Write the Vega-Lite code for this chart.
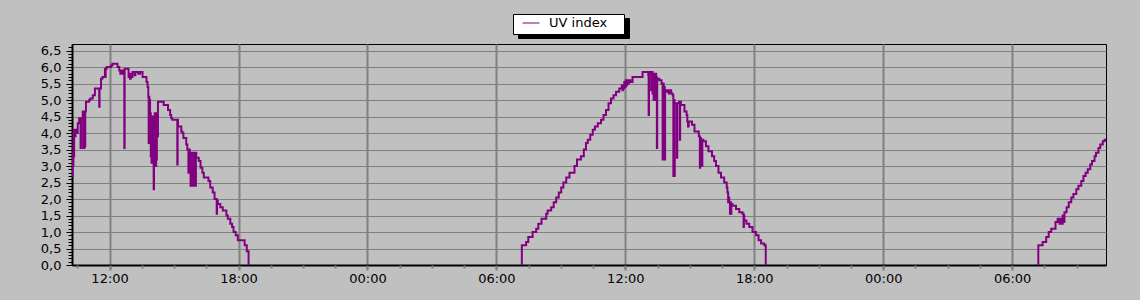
{
  "$schema": "https://vega.github.io/schema/vega-lite/v6.json",
  "width": 1034,
  "height": 221,
  "autosize": {"type": "none"},
  "padding": {"left": 72, "top": 44, "right": 34, "bottom": 35},
  "background": "#c0c0c0",
  "config": {
    "view": {"stroke": "black", "strokeWidth": 1, "fill": "#c0c0c0"},
    "axis": {"labelFont": "DejaVu Sans", "labelFontSize": 13, "labelColor": "black", "title": null}
  },
  "data": {"values": [
    {"t":"2024-05-20T10:15:00Z","v":2.7,"day":1},{"t":"2024-05-20T10:17:00Z","v":3.4,"day":1},{"t":"2024-05-20T10:18:00Z","v":3.0,"day":1},{"t":"2024-05-20T10:19:00Z","v":4.0,"day":1},{"t":"2024-05-20T10:20:00Z","v":3.3,"day":1},{"t":"2024-05-20T10:21:00Z","v":4.1,"day":1},{"t":"2024-05-20T10:23:00Z","v":3.9,"day":1},{"t":"2024-05-20T10:25:00Z","v":4.1,"day":1},{"t":"2024-05-20T10:28:00Z","v":4.0,"day":1},{"t":"2024-05-20T10:31:00Z","v":4.3,"day":1},{"t":"2024-05-20T10:35:00Z","v":4.45,"day":1},{"t":"2024-05-20T10:39:00Z","v":3.55,"day":1},{"t":"2024-05-20T10:40:00Z","v":4.45,"day":1},{"t":"2024-05-20T10:45:00Z","v":4.65,"day":1},{"t":"2024-05-20T10:46:00Z","v":3.55,"day":1},{"t":"2024-05-20T10:47:00Z","v":4.65,"day":1},{"t":"2024-05-20T10:49:00Z","v":3.55,"day":1},{"t":"2024-05-20T10:50:00Z","v":4.65,"day":1},{"t":"2024-05-20T10:51:00Z","v":3.6,"day":1},{"t":"2024-05-20T10:52:00Z","v":4.65,"day":1},{"t":"2024-05-20T10:54:00Z","v":4.95,"day":1},{"t":"2024-05-20T11:03:00Z","v":5.0,"day":1},{"t":"2024-05-20T11:06:00Z","v":5.05,"day":1},{"t":"2024-05-20T11:13:00Z","v":5.15,"day":1},{"t":"2024-05-20T11:19:00Z","v":5.35,"day":1},{"t":"2024-05-20T11:31:00Z","v":4.8,"day":1},{"t":"2024-05-20T11:32:00Z","v":5.35,"day":1},{"t":"2024-05-20T11:36:00Z","v":5.65,"day":1},{"t":"2024-05-20T11:40:00Z","v":5.7,"day":1},{"t":"2024-05-20T11:47:00Z","v":5.95,"day":1},{"t":"2024-05-20T11:48:00Z","v":5.7,"day":1},{"t":"2024-05-20T11:49:00Z","v":5.95,"day":1},{"t":"2024-05-20T11:52:00Z","v":6.0,"day":1},{"t":"2024-05-20T12:04:00Z","v":6.05,"day":1},{"t":"2024-05-20T12:08:00Z","v":6.1,"day":1},{"t":"2024-05-20T12:22:00Z","v":6.0,"day":1},{"t":"2024-05-20T12:27:00Z","v":5.9,"day":1},{"t":"2024-05-20T12:30:00Z","v":5.8,"day":1},{"t":"2024-05-20T12:33:00Z","v":5.9,"day":1},{"t":"2024-05-20T12:36:00Z","v":5.8,"day":1},{"t":"2024-05-20T12:39:00Z","v":5.9,"day":1},{"t":"2024-05-20T12:41:00Z","v":3.55,"day":1},{"t":"2024-05-20T12:42:00Z","v":5.95,"day":1},{"t":"2024-05-20T12:46:00Z","v":5.95,"day":1},{"t":"2024-05-20T12:53:00Z","v":5.7,"day":1},{"t":"2024-05-20T12:55:00Z","v":5.8,"day":1},{"t":"2024-05-20T12:57:00Z","v":5.65,"day":1},{"t":"2024-05-20T12:59:00Z","v":5.8,"day":1},{"t":"2024-05-20T13:01:00Z","v":5.7,"day":1},{"t":"2024-05-20T13:04:00Z","v":5.85,"day":1},{"t":"2024-05-20T13:10:00Z","v":5.75,"day":1},{"t":"2024-05-20T13:12:00Z","v":5.85,"day":1},{"t":"2024-05-20T13:20:00Z","v":5.8,"day":1},{"t":"2024-05-20T13:25:00Z","v":5.85,"day":1},{"t":"2024-05-20T13:32:00Z","v":5.7,"day":1},{"t":"2024-05-20T13:43:00Z","v":5.55,"day":1},{"t":"2024-05-20T13:46:00Z","v":5.4,"day":1},{"t":"2024-05-20T13:48:00Z","v":5.1,"day":1},{"t":"2024-05-20T13:49:00Z","v":3.7,"day":1},{"t":"2024-05-20T13:50:00Z","v":5.1,"day":1},{"t":"2024-05-20T13:51:00Z","v":3.9,"day":1},{"t":"2024-05-20T13:52:00Z","v":5.0,"day":1},{"t":"2024-05-20T13:53:00Z","v":3.7,"day":1},{"t":"2024-05-20T13:54:00Z","v":4.6,"day":1},{"t":"2024-05-20T13:55:00Z","v":3.3,"day":1},{"t":"2024-05-20T13:56:00Z","v":4.5,"day":1},{"t":"2024-05-20T13:57:00Z","v":3.1,"day":1},{"t":"2024-05-20T13:58:00Z","v":4.4,"day":1},{"t":"2024-05-20T13:59:00Z","v":3.3,"day":1},{"t":"2024-05-20T14:00:00Z","v":4.5,"day":1},{"t":"2024-05-20T14:01:00Z","v":3.1,"day":1},{"t":"2024-05-20T14:02:00Z","v":4.4,"day":1},{"t":"2024-05-20T14:03:00Z","v":2.3,"day":1},{"t":"2024-05-20T14:04:00Z","v":4.5,"day":1},{"t":"2024-05-20T14:05:00Z","v":3.0,"day":1},{"t":"2024-05-20T14:06:00Z","v":4.6,"day":1},{"t":"2024-05-20T14:07:00Z","v":3.2,"day":1},{"t":"2024-05-20T14:08:00Z","v":4.2,"day":1},{"t":"2024-05-20T14:09:00Z","v":3.0,"day":1},{"t":"2024-05-20T14:10:00Z","v":4.5,"day":1},{"t":"2024-05-20T14:11:00Z","v":3.2,"day":1},{"t":"2024-05-20T14:12:00Z","v":4.6,"day":1},{"t":"2024-05-20T14:14:00Z","v":3.9,"day":1},{"t":"2024-05-20T14:15:00Z","v":4.95,"day":1},{"t":"2024-05-20T14:31:00Z","v":4.85,"day":1},{"t":"2024-05-20T14:43:00Z","v":4.7,"day":1},{"t":"2024-05-20T14:49:00Z","v":4.55,"day":1},{"t":"2024-05-20T14:52:00Z","v":4.45,"day":1},{"t":"2024-05-20T14:55:00Z","v":4.4,"day":1},{"t":"2024-05-20T15:09:00Z","v":3.05,"day":1},{"t":"2024-05-20T15:10:00Z","v":4.4,"day":1},{"t":"2024-05-20T15:11:00Z","v":4.2,"day":1},{"t":"2024-05-20T15:20:00Z","v":4.05,"day":1},{"t":"2024-05-20T15:23:00Z","v":4.0,"day":1},{"t":"2024-05-20T15:26:00Z","v":3.85,"day":1},{"t":"2024-05-20T15:34:00Z","v":3.65,"day":1},{"t":"2024-05-20T15:37:00Z","v":3.5,"day":1},{"t":"2024-05-20T15:40:00Z","v":2.8,"day":1},{"t":"2024-05-20T15:41:00Z","v":3.5,"day":1},{"t":"2024-05-20T15:44:00Z","v":3.3,"day":1},{"t":"2024-05-20T15:46:00Z","v":2.4,"day":1},{"t":"2024-05-20T15:47:00Z","v":3.4,"day":1},{"t":"2024-05-20T15:48:00Z","v":2.4,"day":1},{"t":"2024-05-20T15:49:00Z","v":3.3,"day":1},{"t":"2024-05-20T15:50:00Z","v":2.5,"day":1},{"t":"2024-05-20T15:51:00Z","v":3.4,"day":1},{"t":"2024-05-20T15:52:00Z","v":2.4,"day":1},{"t":"2024-05-20T15:53:00Z","v":3.3,"day":1},{"t":"2024-05-20T15:54:00Z","v":2.6,"day":1},{"t":"2024-05-20T15:55:00Z","v":3.4,"day":1},{"t":"2024-05-20T15:57:00Z","v":2.4,"day":1},{"t":"2024-05-20T15:58:00Z","v":3.35,"day":1},{"t":"2024-05-20T16:00:00Z","v":2.4,"day":1},{"t":"2024-05-20T16:01:00Z","v":3.4,"day":1},{"t":"2024-05-20T16:02:00Z","v":3.25,"day":1},{"t":"2024-05-20T16:09:00Z","v":3.15,"day":1},{"t":"2024-05-20T16:14:00Z","v":2.95,"day":1},{"t":"2024-05-20T16:19:00Z","v":2.8,"day":1},{"t":"2024-05-20T16:23:00Z","v":2.65,"day":1},{"t":"2024-05-20T16:36:00Z","v":2.55,"day":1},{"t":"2024-05-20T16:41:00Z","v":2.35,"day":1},{"t":"2024-05-20T16:48:00Z","v":2.2,"day":1},{"t":"2024-05-20T16:53:00Z","v":2.0,"day":1},{"t":"2024-05-20T16:59:00Z","v":1.55,"day":1},{"t":"2024-05-20T17:00:00Z","v":1.95,"day":1},{"t":"2024-05-20T17:02:00Z","v":1.85,"day":1},{"t":"2024-05-20T17:09:00Z","v":1.75,"day":1},{"t":"2024-05-20T17:16:00Z","v":1.65,"day":1},{"t":"2024-05-20T17:26:00Z","v":1.5,"day":1},{"t":"2024-05-20T17:30:00Z","v":1.4,"day":1},{"t":"2024-05-20T17:37:00Z","v":1.25,"day":1},{"t":"2024-05-20T17:42:00Z","v":1.15,"day":1},{"t":"2024-05-20T17:46:00Z","v":1.0,"day":1},{"t":"2024-05-20T17:52:00Z","v":0.9,"day":1},{"t":"2024-05-20T17:58:00Z","v":0.75,"day":1},{"t":"2024-05-20T18:17:00Z","v":0.6,"day":1},{"t":"2024-05-20T18:23:00Z","v":0.42,"day":1},{"t":"2024-05-20T18:28:00Z","v":0.0,"day":1},
    {"t":"2024-05-21T07:10:00Z","v":0.0,"day":2},{"t":"2024-05-21T07:11:00Z","v":0.6,"day":2},{"t":"2024-05-21T07:23:00Z","v":0.7,"day":2},{"t":"2024-05-21T07:29:00Z","v":0.85,"day":2},{"t":"2024-05-21T07:41:00Z","v":1.0,"day":2},{"t":"2024-05-21T07:51:00Z","v":1.1,"day":2},{"t":"2024-05-21T07:57:00Z","v":1.25,"day":2},{"t":"2024-05-21T08:06:00Z","v":1.4,"day":2},{"t":"2024-05-21T08:19:00Z","v":1.55,"day":2},{"t":"2024-05-21T08:23:00Z","v":1.65,"day":2},{"t":"2024-05-21T08:33:00Z","v":1.75,"day":2},{"t":"2024-05-21T08:40:00Z","v":1.9,"day":2},{"t":"2024-05-21T08:47:00Z","v":2.05,"day":2},{"t":"2024-05-21T08:54:00Z","v":2.2,"day":2},{"t":"2024-05-21T09:01:00Z","v":2.35,"day":2},{"t":"2024-05-21T09:07:00Z","v":2.5,"day":2},{"t":"2024-05-21T09:15:00Z","v":2.65,"day":2},{"t":"2024-05-21T09:24:00Z","v":2.8,"day":2},{"t":"2024-05-21T09:38:00Z","v":3.0,"day":2},{"t":"2024-05-21T09:45:00Z","v":3.2,"day":2},{"t":"2024-05-21T09:56:00Z","v":3.3,"day":2},{"t":"2024-05-21T10:04:00Z","v":3.5,"day":2},{"t":"2024-05-21T10:10:00Z","v":3.7,"day":2},{"t":"2024-05-21T10:15:00Z","v":3.8,"day":2},{"t":"2024-05-21T10:22:00Z","v":3.95,"day":2},{"t":"2024-05-21T10:29:00Z","v":4.1,"day":2},{"t":"2024-05-21T10:35:00Z","v":4.2,"day":2},{"t":"2024-05-21T10:43:00Z","v":4.3,"day":2},{"t":"2024-05-21T10:52:00Z","v":4.4,"day":2},{"t":"2024-05-21T10:59:00Z","v":4.55,"day":2},{"t":"2024-05-21T11:06:00Z","v":4.7,"day":2},{"t":"2024-05-21T11:13:00Z","v":4.9,"day":2},{"t":"2024-05-21T11:20:00Z","v":5.05,"day":2},{"t":"2024-05-21T11:27:00Z","v":5.15,"day":2},{"t":"2024-05-21T11:34:00Z","v":5.25,"day":2},{"t":"2024-05-21T11:43:00Z","v":5.35,"day":2},{"t":"2024-05-21T11:50:00Z","v":5.45,"day":2},{"t":"2024-05-21T11:52:00Z","v":5.3,"day":2},{"t":"2024-05-21T11:53:00Z","v":5.45,"day":2},{"t":"2024-05-21T11:55:00Z","v":5.35,"day":2},{"t":"2024-05-21T11:57:00Z","v":5.55,"day":2},{"t":"2024-05-21T11:59:00Z","v":5.4,"day":2},{"t":"2024-05-21T12:01:00Z","v":5.6,"day":2},{"t":"2024-05-21T12:03:00Z","v":5.45,"day":2},{"t":"2024-05-21T12:05:00Z","v":5.6,"day":2},{"t":"2024-05-21T12:08:00Z","v":5.5,"day":2},{"t":"2024-05-21T12:10:00Z","v":5.6,"day":2},{"t":"2024-05-21T12:14:00Z","v":5.55,"day":2},{"t":"2024-05-21T12:20:00Z","v":5.7,"day":2},{"t":"2024-05-21T12:48:00Z","v":5.85,"day":2},{"t":"2024-05-21T13:02:00Z","v":5.85,"day":2},{"t":"2024-05-21T13:04:00Z","v":5.75,"day":2},{"t":"2024-05-21T13:05:00Z","v":4.55,"day":2},{"t":"2024-05-21T13:06:00Z","v":5.85,"day":2},{"t":"2024-05-21T13:10:00Z","v":5.8,"day":2},{"t":"2024-05-21T13:12:00Z","v":5.3,"day":2},{"t":"2024-05-21T13:13:00Z","v":5.85,"day":2},{"t":"2024-05-21T13:16:00Z","v":5.2,"day":2},{"t":"2024-05-21T13:17:00Z","v":5.8,"day":2},{"t":"2024-05-21T13:19:00Z","v":5.0,"day":2},{"t":"2024-05-21T13:20:00Z","v":5.75,"day":2},{"t":"2024-05-21T13:22:00Z","v":5.0,"day":2},{"t":"2024-05-21T13:23:00Z","v":5.8,"day":2},{"t":"2024-05-21T13:26:00Z","v":5.0,"day":2},{"t":"2024-05-21T13:27:00Z","v":5.7,"day":2},{"t":"2024-05-21T13:28:00Z","v":3.55,"day":2},{"t":"2024-05-21T13:29:00Z","v":5.65,"day":2},{"t":"2024-05-21T13:35:00Z","v":5.6,"day":2},{"t":"2024-05-21T13:41:00Z","v":5.5,"day":2},{"t":"2024-05-21T13:44:00Z","v":3.2,"day":2},{"t":"2024-05-21T13:45:00Z","v":5.5,"day":2},{"t":"2024-05-21T13:47:00Z","v":3.3,"day":2},{"t":"2024-05-21T13:48:00Z","v":5.4,"day":2},{"t":"2024-05-21T13:50:00Z","v":3.2,"day":2},{"t":"2024-05-21T13:51:00Z","v":5.3,"day":2},{"t":"2024-05-21T13:54:00Z","v":5.25,"day":2},{"t":"2024-05-21T13:58:00Z","v":5.3,"day":2},{"t":"2024-05-21T14:01:00Z","v":5.2,"day":2},{"t":"2024-05-21T14:04:00Z","v":5.3,"day":2},{"t":"2024-05-21T14:08:00Z","v":5.2,"day":2},{"t":"2024-05-21T14:12:00Z","v":5.15,"day":2},{"t":"2024-05-21T14:14:00Z","v":2.7,"day":2},{"t":"2024-05-21T14:15:00Z","v":5.0,"day":2},{"t":"2024-05-21T14:17:00Z","v":2.7,"day":2},{"t":"2024-05-21T14:18:00Z","v":4.9,"day":2},{"t":"2024-05-21T14:21:00Z","v":4.9,"day":2},{"t":"2024-05-21T14:24:00Z","v":3.25,"day":2},{"t":"2024-05-21T14:25:00Z","v":4.9,"day":2},{"t":"2024-05-21T14:30:00Z","v":4.95,"day":2},{"t":"2024-05-21T14:32:00Z","v":3.8,"day":2},{"t":"2024-05-21T14:33:00Z","v":4.95,"day":2},{"t":"2024-05-21T14:35:00Z","v":4.85,"day":2},{"t":"2024-05-21T14:45:00Z","v":4.65,"day":2},{"t":"2024-05-21T14:51:00Z","v":4.55,"day":2},{"t":"2024-05-21T14:53:00Z","v":4.35,"day":2},{"t":"2024-05-21T14:55:00Z","v":4.2,"day":2},{"t":"2024-05-21T14:57:00Z","v":4.35,"day":2},{"t":"2024-05-21T15:06:00Z","v":4.25,"day":2},{"t":"2024-05-21T15:13:00Z","v":4.05,"day":2},{"t":"2024-05-21T15:25:00Z","v":3.9,"day":2},{"t":"2024-05-21T15:28:00Z","v":2.95,"day":2},{"t":"2024-05-21T15:29:00Z","v":3.85,"day":2},{"t":"2024-05-21T15:31:00Z","v":3.1,"day":2},{"t":"2024-05-21T15:32:00Z","v":3.8,"day":2},{"t":"2024-05-21T15:34:00Z","v":3.0,"day":2},{"t":"2024-05-21T15:35:00Z","v":3.8,"day":2},{"t":"2024-05-21T15:38:00Z","v":3.75,"day":2},{"t":"2024-05-21T15:45:00Z","v":3.6,"day":2},{"t":"2024-05-21T15:52:00Z","v":3.45,"day":2},{"t":"2024-05-21T16:02:00Z","v":3.3,"day":2},{"t":"2024-05-21T16:08:00Z","v":3.15,"day":2},{"t":"2024-05-21T16:13:00Z","v":3.0,"day":2},{"t":"2024-05-21T16:20:00Z","v":2.8,"day":2},{"t":"2024-05-21T16:27:00Z","v":2.65,"day":2},{"t":"2024-05-21T16:36:00Z","v":2.5,"day":2},{"t":"2024-05-21T16:43:00Z","v":2.35,"day":2},{"t":"2024-05-21T16:45:00Z","v":2.2,"day":2},{"t":"2024-05-21T16:47:00Z","v":1.9,"day":2},{"t":"2024-05-21T16:48:00Z","v":2.05,"day":2},{"t":"2024-05-21T16:50:00Z","v":1.9,"day":2},{"t":"2024-05-21T16:52:00Z","v":1.55,"day":2},{"t":"2024-05-21T16:53:00Z","v":1.9,"day":2},{"t":"2024-05-21T16:55:00Z","v":1.55,"day":2},{"t":"2024-05-21T16:56:00Z","v":1.85,"day":2},{"t":"2024-05-21T16:59:00Z","v":1.8,"day":2},{"t":"2024-05-21T17:09:00Z","v":1.7,"day":2},{"t":"2024-05-21T17:18:00Z","v":1.6,"day":2},{"t":"2024-05-21T17:27:00Z","v":1.55,"day":2},{"t":"2024-05-21T17:30:00Z","v":1.15,"day":2},{"t":"2024-05-21T17:31:00Z","v":1.5,"day":2},{"t":"2024-05-21T17:32:00Z","v":1.35,"day":2},{"t":"2024-05-21T17:38:00Z","v":1.25,"day":2},{"t":"2024-05-21T17:46:00Z","v":1.15,"day":2},{"t":"2024-05-21T17:55:00Z","v":1.0,"day":2},{"t":"2024-05-21T18:05:00Z","v":0.9,"day":2},{"t":"2024-05-21T18:12:00Z","v":0.75,"day":2},{"t":"2024-05-21T18:19:00Z","v":0.65,"day":2},{"t":"2024-05-21T18:28:00Z","v":0.6,"day":2},{"t":"2024-05-21T18:32:00Z","v":0.0,"day":2},
    {"t":"2024-05-22T07:12:00Z","v":0.0,"day":3},{"t":"2024-05-22T07:13:00Z","v":0.6,"day":3},{"t":"2024-05-22T07:25:00Z","v":0.7,"day":3},{"t":"2024-05-22T07:35:00Z","v":0.85,"day":3},{"t":"2024-05-22T07:42:00Z","v":1.0,"day":3},{"t":"2024-05-22T07:49:00Z","v":1.1,"day":3},{"t":"2024-05-22T08:01:00Z","v":1.3,"day":3},{"t":"2024-05-22T08:07:00Z","v":1.4,"day":3},{"t":"2024-05-22T08:12:00Z","v":1.25,"day":3},{"t":"2024-05-22T08:14:00Z","v":1.4,"day":3},{"t":"2024-05-22T08:17:00Z","v":1.25,"day":3},{"t":"2024-05-22T08:21:00Z","v":1.5,"day":3},{"t":"2024-05-22T08:24:00Z","v":1.3,"day":3},{"t":"2024-05-22T08:26:00Z","v":1.6,"day":3},{"t":"2024-05-22T08:32:00Z","v":1.75,"day":3},{"t":"2024-05-22T08:38:00Z","v":1.9,"day":3},{"t":"2024-05-22T08:45:00Z","v":2.05,"day":3},{"t":"2024-05-22T08:51:00Z","v":2.15,"day":3},{"t":"2024-05-22T08:59:00Z","v":2.3,"day":3},{"t":"2024-05-22T09:05:00Z","v":2.4,"day":3},{"t":"2024-05-22T09:13:00Z","v":2.55,"day":3},{"t":"2024-05-22T09:19:00Z","v":2.7,"day":3},{"t":"2024-05-22T09:25:00Z","v":2.8,"day":3},{"t":"2024-05-22T09:31:00Z","v":2.9,"day":3},{"t":"2024-05-22T09:38:00Z","v":3.05,"day":3},{"t":"2024-05-22T09:43:00Z","v":3.15,"day":3},{"t":"2024-05-22T09:50:00Z","v":3.3,"day":3},{"t":"2024-05-22T09:54:00Z","v":3.4,"day":3},{"t":"2024-05-22T10:01:00Z","v":3.55,"day":3},{"t":"2024-05-22T10:06:00Z","v":3.65,"day":3},{"t":"2024-05-22T10:13:00Z","v":3.75,"day":3},{"t":"2024-05-22T10:18:00Z","v":3.8,"day":3},{"t":"2024-05-22T10:22:00Z","v":3.8,"day":3}
  ]},
  "layer": [
    {
      "mark": {"type": "line", "interpolate": "step-after", "strokeWidth": 2, "clip": true},
      "encoding": {
        "x": {
          "field": "t", "type": "temporal",
          "scale": {"type": "utc", "domain": [1716200100000, 1716373320000]},
          "axis": {
            "orient": "bottom",
            "values": [1716206400000, 1716228000000, 1716249600000, 1716271200000, 1716292800000, 1716314400000, 1716336000000, 1716357600000],
            "labelExpr": "utcFormat(datum.value, '%H:%M')",
            "grid": true, "gridColor": "#808080", "gridWidth": 2, "gridOpacity": 1,
            "domain": true, "domainColor": "black", "domainWidth": 2,
            "ticks": true, "tickColor": "#808080", "tickWidth": 2, "tickSize": 5,
            "labelPadding": 2, "labelFlush": false, "labelOverlap": false
          }
        },
        "y": {
          "field": "v", "type": "quantitative",
          "scale": {"domain": [0, 6.7], "nice": false, "zero": true},
          "axis": {
            "orient": "left",
            "values": [0, 0.5, 1, 1.5, 2, 2.5, 3, 3.5, 4, 4.5, 5, 5.5, 6, 6.5],
            "labelExpr": "replace(format(datum.value, '.1f'), '.', ',')",
            "grid": true, "gridColor": "#808080", "gridWidth": 1, "gridOpacity": 1,
            "domain": true, "domainColor": "black", "domainWidth": 2,
            "ticks": true, "tickColor": "black", "tickWidth": 1, "tickSize": 6,
            "labelPadding": 5, "labelOverlap": false
          }
        },
        "detail": {"field": "day", "type": "nominal"},
        "color": {
          "datum": "UV index", "type": "nominal",
          "scale": {"range": ["#800080"]},
          "legend": {
            "orient": "none", "legendX": 441, "legendY": -30, "zindex": 2,
            "title": "\u00a0", "titleOrient": "right", "titlePadding": 13, "titleFontSize": 2, "titleColor": "white",
            "symbolType": "stroke", "symbolSize": 289, "symbolStrokeWidth": 1, "symbolOffset": 5,
            "clipHeight": 10,
            "labelFont": "DejaVu Sans", "labelFontSize": 13, "labelColor": "black", "labelOffset": 9,
            "fillColor": "white", "strokeColor": "black", "padding": 4
          }
        },
        "strokeDash": {
          "datum": "shadow", "type": "nominal",
          "scale": {"range": [[1, 0]]},
          "legend": {
            "orient": "none", "legendX": 446, "legendY": -26, "zindex": 1,
            "title": "\u00a0", "titleOrient": "right", "titlePadding": 13, "titleFontSize": 2, "titleColor": "black",
            "symbolType": "stroke", "symbolSize": 289, "symbolStrokeWidth": 1, "symbolOffset": 5,
            "symbolStrokeColor": "black",
            "clipHeight": 10,
            "labelFont": "DejaVu Sans", "labelFontSize": 13, "labelColor": "black", "labelOffset": 9,
            "labelExpr": "'UV index'",
            "fillColor": "black", "strokeColor": "black", "padding": 4
          }
        }
      }
    },
    {
      "mark": {"type": "line", "strokeOpacity": 0},
      "encoding": {
        "x": {
          "field": "t", "type": "temporal",
          "axis": {
            "orient": "bottom",
            "values": [1716201000000, 1716206400000, 1716211800000, 1716217200000, 1716222600000, 1716228000000, 1716233400000, 1716238800000, 1716244200000, 1716249600000, 1716255000000, 1716260400000, 1716265800000, 1716271200000, 1716276600000, 1716282000000, 1716287400000, 1716292800000, 1716298200000, 1716303600000, 1716309000000, 1716314400000, 1716319800000, 1716325200000, 1716330600000, 1716336000000, 1716341400000, 1716346800000, 1716352200000, 1716357600000, 1716363000000, 1716368400000],
            "labels": false, "grid": false, "domain": false,
            "ticks": true, "tickColor": "#808080", "tickWidth": 2, "tickSize": 3
          }
        },
        "y": {
          "field": "v", "type": "quantitative",
          "axis": {
            "orient": "left",
            "values": [0, 0.1, 0.2, 0.3, 0.4, 0.5, 0.6, 0.7, 0.8, 0.9, 1, 1.1, 1.2, 1.3, 1.4, 1.5, 1.6, 1.7, 1.8, 1.9, 2, 2.1, 2.2, 2.3, 2.4, 2.5, 2.6, 2.7, 2.8, 2.9, 3, 3.1, 3.2, 3.3, 3.4, 3.5, 3.6, 3.7, 3.8, 3.9, 4, 4.1, 4.2, 4.3, 4.4, 4.5, 4.6, 4.7, 4.8, 4.9, 5, 5.1, 5.2, 5.3, 5.4, 5.5, 5.6, 5.7, 5.8, 5.9, 6, 6.1, 6.2, 6.3, 6.4, 6.5, 6.6],
            "labels": false, "grid": false, "domain": false,
            "ticks": true, "tickColor": "black", "tickWidth": 1, "tickSize": 4
          }
        }
      }
    }
  ],
  "resolve": {"axis": {"x": "independent", "y": "independent"}}
}
